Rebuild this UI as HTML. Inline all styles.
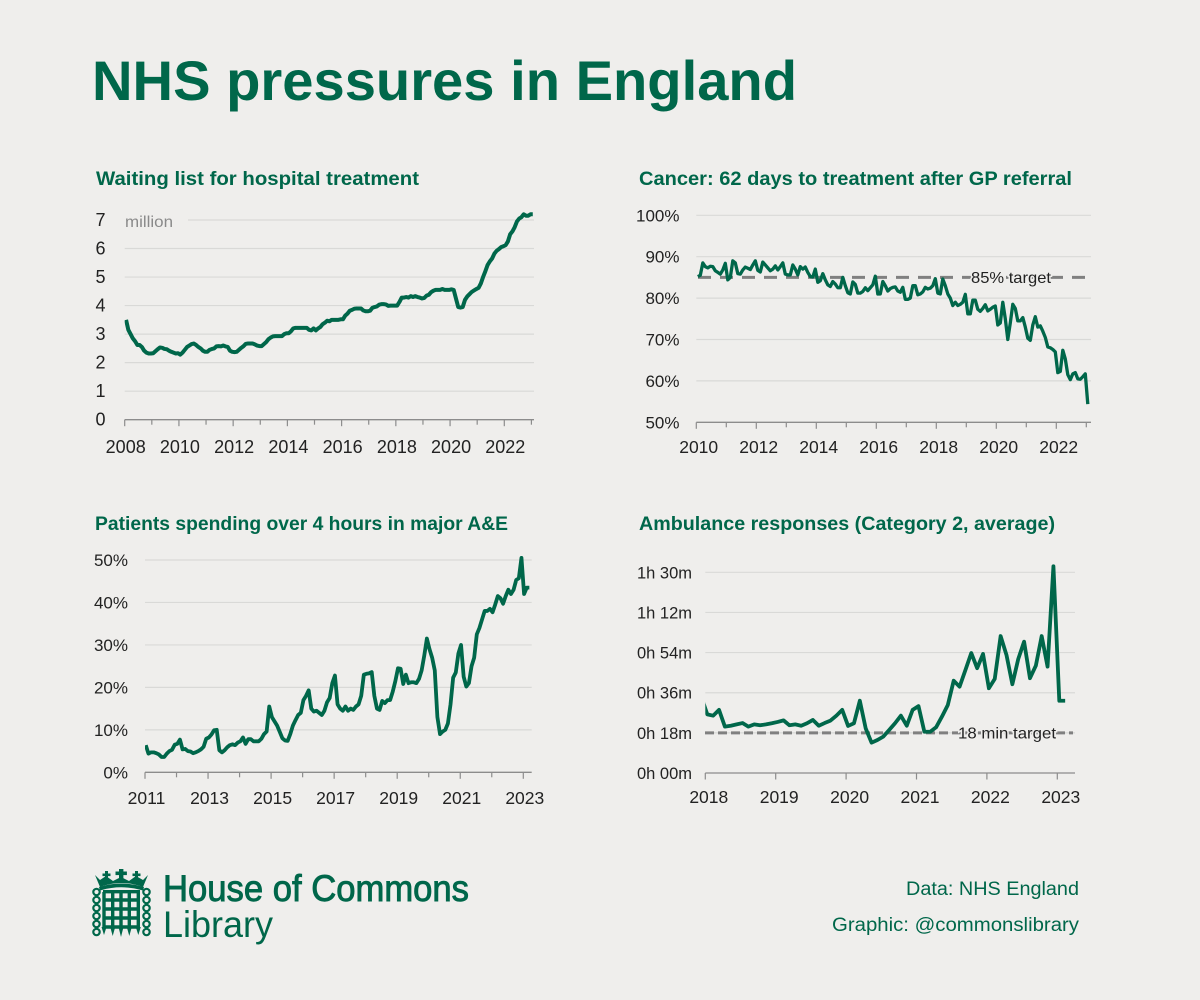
<!DOCTYPE html>
<html lang="en">
<head>
<meta charset="utf-8">
<title>NHS pressures in England</title>
<style>
html,body{margin:0;padding:0;background:#efeeec;}
svg{display:block;font-family:"Liberation Sans",sans-serif;}
</style>
</head>
<body>
<svg id="root" xmlns="http://www.w3.org/2000/svg" width="1200" height="1000" viewBox="0 0 1200 1000">
  <rect x="0" y="0" width="1200" height="1000" fill="#efeeec"/>
  <text x="92" y="100" font-size="56" font-weight="700" fill="#00674a" textLength="705" lengthAdjust="spacingAndGlyphs">NHS pressures in England</text>

  <g id="charts"></g>

  <g fill="#00674a" stroke="#00674a">
    <g stroke="none">
      <path d="M95 875 L100 887 Q121 879 143 887 L148 875 L143 880 L136 876 L129 881 L121 877 L113 881 L106 876 L100 880 Z"/>
      <rect x="119" y="869" width="4.4" height="11"/><rect x="115.5" y="871.5" width="11.4" height="3.6"/>
      <rect x="105" y="871" width="3" height="8"/><rect x="102.5" y="873.5" width="8" height="2.6"/>
      <rect x="135" y="871" width="3" height="8"/><rect x="132.5" y="873.5" width="8" height="2.6"/>
      <path d="M99 887 Q121 880 144 887 L143 890.5 Q121 884 100 890.5 Z"/>
    </g>
    <g stroke-width="3.4" fill="none">
      <path d="M104 892 V928 M112.7 890 V928 M121 890 V928 M129.3 890 V928 M138.3 892 V928"/>
      <path d="M103 891.7 H140 M103 900 H140 M103 909 H140 M103 918 H140 M103 927 H140"/>
    </g>
    <g stroke="none">
      <path d="M101.5 927 h5 l-2.5 8 Z M110.2 927 h5 l-2.5 9 Z M118.5 927 h5 l-2.5 10 Z M126.8 927 h5 l-2.5 9 Z M135.8 927 h5 l-2.5 8 Z"/>
    </g>
    <g fill="none" stroke-width="2.2">
      <circle cx="96.5" cy="892" r="3.2"/><circle cx="96.5" cy="900" r="3.2"/><circle cx="96.5" cy="908" r="3.2"/><circle cx="96.5" cy="916" r="3.2"/><circle cx="96.5" cy="924" r="3.2"/><circle cx="96.5" cy="932" r="3.2"/>
      <circle cx="146.5" cy="892" r="3.2"/><circle cx="146.5" cy="900" r="3.2"/><circle cx="146.5" cy="908" r="3.2"/><circle cx="146.5" cy="916" r="3.2"/><circle cx="146.5" cy="924" r="3.2"/><circle cx="146.5" cy="932" r="3.2"/>
    </g>
  </g>
  <text x="163" y="901" font-size="37" font-weight="400" fill="#00674a" stroke="#00674a" stroke-width="0.9" textLength="306" lengthAdjust="spacingAndGlyphs">House of Commons</text>
  <text x="163" y="937" font-size="37" fill="#00674a" textLength="110" lengthAdjust="spacingAndGlyphs">Library</text>
  <text x="906" y="895" font-size="19" fill="#00674a" textLength="173" lengthAdjust="spacingAndGlyphs">Data: NHS England</text>
  <text x="832" y="931" font-size="19" fill="#00674a" textLength="247" lengthAdjust="spacingAndGlyphs">Graphic: @commonslibrary</text>
</svg>

<script>
/* ---------- Waiting list (million), monthly from Jan 2008 ---------- */
const waitingStartYear = 2008;
const waitingValues = [
  3.5,3.15,3.0,2.85,2.75,2.62,2.62,2.55,2.42,2.35,2.32,2.32,
  2.33,2.4,2.47,2.53,2.52,2.48,2.47,2.42,2.38,2.35,2.32,2.33,
  2.28,2.35,2.45,2.55,2.6,2.65,2.67,2.62,2.55,2.5,2.42,2.38,
  2.38,2.45,2.48,2.5,2.57,2.58,2.57,2.6,2.57,2.55,2.42,2.38,
  2.37,2.38,2.45,2.52,2.58,2.66,2.67,2.67,2.67,2.64,2.6,2.58,
  2.58,2.65,2.72,2.82,2.88,2.92,2.93,2.93,2.93,2.93,3.0,3.03,
  3.03,3.1,3.2,3.22,3.22,3.22,3.22,3.22,3.22,3.15,3.13,3.2,
  3.13,3.2,3.25,3.35,3.4,3.47,3.45,3.5,3.5,3.5,3.5,3.52,
  3.52,3.65,3.72,3.82,3.85,3.89,3.9,3.9,3.9,3.83,3.8,3.8,
  3.82,3.92,3.95,3.97,4.03,4.05,4.05,4.04,3.99,4.0,4.0,4.0,
  4.0,4.13,4.28,4.28,4.3,4.28,4.33,4.3,4.33,4.3,4.28,4.25,
  4.27,4.35,4.38,4.47,4.52,4.55,4.55,4.55,4.58,4.55,4.55,4.55,
  4.57,4.55,4.25,3.95,3.93,3.95,4.2,4.32,4.4,4.48,4.53,4.58,
  4.62,4.77,5.0,5.2,5.42,5.55,5.65,5.82,5.92,5.98,6.05,6.08,
  6.12,6.25,6.5,6.6,6.75,6.95,7.05,7.1,7.2,7.15,7.15,7.2,
  7.2
];
const waitingYTicks = [0,1,2,3,4,5,6,7];
const waitingYLabels = ["0","1","2","3","4","5","6","7"];
const waitingXTicks = [2008,2009,2010,2011,2012,2013,2014,2015,2016,2017,2018,2019,2020,2021,2022,2023];
const waitingXLabels = ["2008","","2010","","2012","","2014","","2016","","2018","","2020","","2022",""];

/* ---------- Cancer 62-day performance (%), monthly from Jan 2010 ---------- */
const cancerStartYear = 2010;
const cancerValues = [
  85.2,85.5,88.5,87.6,87.3,87.7,87.6,86.6,86.2,85.8,86.8,88.4,
  84.4,85,89,88.5,85.9,85.8,86.8,87.5,87.2,86.9,88,89,
  86.7,86.3,88.7,88,87.3,86.6,87,87.8,86.8,87.6,88.5,85.8,
  85.6,85.6,88,87,85.6,87.6,87,87.5,86.2,85.2,85.1,87,
  83.8,84.2,85.9,84.4,83.2,82.8,84,83.4,82.5,82.5,85,83,
  81.3,81,83.9,83.3,81.2,81.2,81.6,82.5,81.8,82.5,83.2,85.3,
  81,81,84,83,81.7,82.3,82.6,82.7,81.7,81.4,82.6,79.7,
  79.7,80,83,83,80.8,81,81.5,82.6,82.2,82.4,83,84.7,
  81.2,81,84.6,83,81,80,78.2,79,78.2,78.5,79,80.9,
  76.2,76.2,79.5,79.5,77.3,76.8,77.5,78.4,76.9,77.3,77.8,78.1,
  73.5,74,79,75,70,74,78.5,77.5,74.5,74.5,75.3,73,
  70.3,69.8,73.5,75.5,73,73.3,72,70.5,68.2,68,67.6,67,
  62,62.3,67.4,65.3,61.5,60.3,61.7,62,60.5,60.4,61,61.7,
  54.4
];
const cancerTarget = [85];
const cancerTargetLabel = ["85% target"];
const cancerYTicks = [50,60,70,80,90,100];
const cancerYLabels = ["50%","60%","70%","80%","90%","100%"];
const cancerXTicks = [2010,2011,2012,2013,2014,2015,2016,2017,2018,2019,2020,2021,2022,2023];
const cancerXLabels = ["2010","","2012","","2014","","2016","","2018","","2020","","2022",""];

/* ---------- A&E over 4 hours (%), monthly from Jan 2011 ---------- */
const aeStartYear = 2011;
const aeValues = [
  6.4,4.4,4.7,4.7,4.5,4.2,3.6,3.6,4.4,5.0,5.3,6.5,
  6.7,7.7,5.4,5.5,5.0,4.9,4.5,4.7,5.0,5.4,6.0,7.9,
  8.2,8.9,9.9,10,5.2,4.7,5.2,5.9,6.4,6.6,6.4,7.0,
  7.3,8.2,6.7,7.8,7.8,7.3,7.3,7.3,7.9,9.0,9.6,15.5,
  13,12,11,9.5,8,7.5,7.4,9,11,12.3,13.5,14,
  17,18,19.3,15,14.3,14.5,14.0,13.5,14.5,16.5,17.5,21,
  22.8,16,15,14.5,15.5,14.5,15,14.7,15.5,16,18,23,
  23.2,23.3,23.6,18,15,14.7,16.8,16.3,17,17,19,21.5,
  24.5,24.4,20.8,23,21,21.2,21.2,21,22,24,27.5,31.5,
  29,27,24,13,9,9.6,10,11.5,16,22.3,23.5,28,
  30,22.5,20.2,21,25,27,32.5,34,36,38,38,38.5,
  37.7,39.5,41.5,41,39.7,41.5,43,42,43,45.3,45.7,50.5,
  42,43.5,43.5
];
const aeYTicks = [0,10,20,30,40,50];
const aeYLabels = ["0%","10%","20%","30%","40%","50%"];
const aeXTicks = [2011,2012,2013,2014,2015,2016,2017,2018,2019,2020,2021,2022,2023];
const aeXLabels = ["2011","","2013","","2015","","2017","","2019","","2021","","2023"];

/* ---------- Ambulance Category 2 average (minutes), monthly from Dec 2017 ---------- */
const ambulanceStartYear = 2018 - 1 / 12;
const ambulanceValues = [
  34,
  26.3,25.7,28.3,20.8,21.2,21.8,22.4,20.8,21.8,21.4,21.8,22.3,
  22.9,23.6,21.4,21.8,21.2,22.3,23.8,21.2,22.4,23.5,25.7,28.3,
  21.1,22.3,32.4,20,13.6,14.8,16.3,19.3,22.3,25.7,21.2,28.3,
  30,18.5,18.5,20.5,25.3,30.5,41.4,38.7,46.2,53.8,47,53.4,
  38,42.2,61.4,52.9,39.8,51.1,58.9,42.5,48.1,61.4,47.7,92.7,
  32.4,32.4
];
const ambulanceTarget = [18];
const ambulanceTargetLabel = ["18 min target"];
const ambulanceYTicks = [0,18,36,54,72,90];
const ambulanceYLabels = ["0h 00m","0h 18m","0h 36m","0h 54m","1h 12m","1h 30m"];
const ambulanceXTicks = [2018,2019,2020,2021,2022,2023];
const ambulanceXLabels = ["2018","2019","2020","2021","2022","2023"];

const NS = "http://www.w3.org/2000/svg";
const GREEN = "#00674a";
const INK = "#222222";

function svgEl(tag, attrs, parent) {
  const node = document.createElementNS(NS, tag);
  for (const k in attrs) node.setAttribute(k, attrs[k]);
  if (parent) parent.appendChild(node);
  return node;
}
function linear(d0, d1, r0, r1) {
  return function (v) { return r0 + (v - d0) * (r1 - r0) / (d1 - d0); };
}

function drawChart(cfg) {
  const root = document.getElementById("charts");
  const g = svgEl("g", {}, root);
  
  

  const x = linear(cfg.xDomain[0], cfg.xDomain[1], cfg.xRange[0], cfg.xRange[1]);
  const y = linear(cfg.yDomain[0], cfg.yDomain[1], cfg.yRange[0], cfg.yRange[1]);

  const title = svgEl("text", { x: cfg.titleX, y: cfg.titleY, "font-size": 19, "font-weight": 700, fill: GREEN, textLength: cfg.titleW, lengthAdjust: "spacingAndGlyphs" }, g);
  title.textContent = cfg.title;
  
  

  cfg.yTicks.forEach(function (t, i) {
    if (t !== cfg.yDomain[0]) {
      const gl = svgEl("line", { x1: cfg.gridStart && t === cfg.gridStart.value ? cfg.gridStart.x : cfg.plotLeft, x2: cfg.plotRight, y1: y(t), y2: y(t), stroke: "#d9d9d7", "stroke-width": 1.2 }, g);
      
      
    }
    const lab = svgEl("text", { x: cfg.yLabelX, y: y(t) + 6, "text-anchor": "end", "font-size": cfg.yFont, fill: INK }, g);
    lab.textContent = cfg.yLabels[i];
    
    
  });

  const axis = svgEl("line", { x1: cfg.plotLeft, x2: cfg.plotRight, y1: y(cfg.yDomain[0]), y2: y(cfg.yDomain[0]), stroke: "#8c8c8c", "stroke-width": 1.3 }, g);
  
  

  cfg.xTicks.forEach(function (t, i) {
    const base = y(cfg.yDomain[0]);
    const major = cfg.xLabels[i] !== "";
    const tick = svgEl("line", { x1: x(t), x2: x(t), y1: base, y2: base + (major ? 6.5 : 5), stroke: "#8c8c8c", "stroke-width": 1.2 }, g);
    
    
    if (major) {
      const lab = svgEl("text", { x: x(t) + cfg.xLabelDx, y: cfg.xLabelY, "text-anchor": "middle", "font-size": cfg.xFont, fill: INK }, g);
      lab.textContent = cfg.xLabels[i];
      
      
    }
  });

  if (cfg.unit) {
    const unit = svgEl("text", { x: cfg.unit.x, y: cfg.unit.y, "font-size": 16, fill: "#8a8a8a", textLength: 48, lengthAdjust: "spacingAndGlyphs" }, g);
    unit.textContent = cfg.unit.text;
    
    
  }

  if (cfg.target) {
    const tl = svgEl("line", { x1: cfg.target.x1, x2: cfg.target.x2, y1: y(cfg.target.values[0]), y2: y(cfg.target.values[0]), stroke: "#808080", "stroke-width": 3, "stroke-dasharray": cfg.target.dash }, g);
    
    
  }

  const clipId = cfg.id + "-clip";
  const defs = svgEl("defs", {}, g);
  const clip = svgEl("clipPath", { id: clipId }, defs);
  svgEl("rect", { x: cfg.plotLeft, y: 0, width: cfg.plotRight - cfg.plotLeft + 10, height: 1000 }, clip);

  const d = cfg.values.map(function (v, i) {
    const year = cfg.startYear + (i + cfg.monthOffset) / 12;
    return (i ? "L" : "M") + x(year).toFixed(2) + " " + y(v).toFixed(2);
  }).join(" ");
  const line = svgEl("path", { d: d, fill: "none", stroke: GREEN, "stroke-width": cfg.lineWidth, "stroke-linejoin": "round", "stroke-linecap": "butt", "clip-path": "url(#" + clipId + ")" }, g);
  
  

  if (cfg.target) {
    const tt = svgEl("text", { x: cfg.target.textX, y: y(cfg.target.values[0]) + 5.5, "font-size": 16, fill: INK, stroke: "#efeeec", "stroke-width": 3, "paint-order": "stroke", textLength: cfg.target.textW, lengthAdjust: "spacingAndGlyphs" }, g);
    tt.textContent = cfg.target.label[0];
    
    
  }
}

drawChart({
  id: "waiting-list", title: "Waiting list for hospital treatment",
  titleX: 96, titleY: 185, titleW: 323,
  values: waitingValues, startYear: waitingStartYear, monthOffset: 0.6,
  xDomain: [2008, 2022], xRange: [124.7, 504.3], yDomain: [0, 7], yRange: [419.7, 220],
  plotLeft: 124.7, plotRight: 534, gridStart: { value: 7, x: 188 },
  yTicks: waitingYTicks, yLabels: waitingYLabels, xTicks: waitingXTicks, xLabels: waitingXLabels,
  yLabelX: 105.5, yFont: 18, xFont: 18, xLabelY: 453, xLabelDx: 1, lineWidth: 4,
  unit: { text: "million", x: 125, y: 227 }
});
drawChart({
  id: "cancer", title: "Cancer: 62 days to treatment after GP referral",
  titleX: 639, titleY: 185, titleW: 433,
  values: cancerValues, startYear: cancerStartYear, monthOffset: 0.6,
  xDomain: [2010, 2022], xRange: [696.3, 1056.3], yDomain: [50, 100], yRange: [422.3, 215.3],
  plotLeft: 696.3, plotRight: 1091, yTicks: cancerYTicks, yLabels: cancerYLabels,
  xTicks: cancerXTicks, xLabels: cancerXLabels,
  yLabelX: 679.5, yFont: 17, xFont: 17.5, xLabelY: 453, xLabelDx: 2.4, lineWidth: 3.3,
  target: { values: cancerTarget, label: cancerTargetLabel, x1: 698, x2: 1090, dash: "13 9", textX: 971, textW: 80 }
});
drawChart({
  id: "ae", title: "Patients spending over 4 hours in major A&E",
  titleX: 95, titleY: 530, titleW: 413,
  values: aeValues, startYear: aeStartYear, monthOffset: 0.3,
  xDomain: [2011, 2023], xRange: [145, 523.3], yDomain: [0, 50], yRange: [772.3, 560],
  plotLeft: 145, plotRight: 531.7, yTicks: aeYTicks, yLabels: aeYLabels,
  xTicks: aeXTicks, xLabels: aeXLabels,
  yLabelX: 128, yFont: 17, xFont: 17.5, xLabelY: 804, xLabelDx: 1.5, lineWidth: 3.8
});
drawChart({
  id: "ambulance", title: "Ambulance responses (Category 2, average)",
  titleX: 639, titleY: 530, titleW: 416,
  values: ambulanceValues, startYear: ambulanceStartYear, monthOffset: 0.34,
  xDomain: [2018, 2023], xRange: [705.3, 1057.3], yDomain: [0, 90], yRange: [773, 572.3],
  plotLeft: 705.3, plotRight: 1075, yTicks: ambulanceYTicks, yLabels: ambulanceYLabels,
  xTicks: ambulanceXTicks, xLabels: ambulanceXLabels,
  yLabelX: 692, yFont: 16.5, xFont: 17.5, xLabelY: 803, xLabelDx: 3.5, lineWidth: 3.8,
  target: { values: ambulanceTarget, label: ambulanceTargetLabel, x1: 705, x2: 1073, dash: "9 4", textX: 958, textW: 98 }
});
</script>
</body>
</html>
